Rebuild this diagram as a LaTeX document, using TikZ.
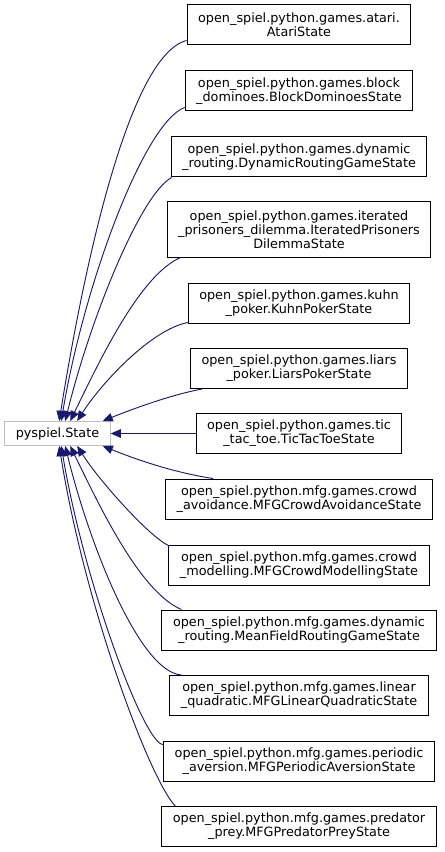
\documentclass[tikz,border=0pt]{standalone}
\usepackage{fontspec}
\setmainfont{DejaVu Sans}
\usetikzlibrary{arrows.meta,calc}
\definecolor{edgeblue}{HTML}{191970}
\definecolor{stategray}{HTML}{BFBFBF}
\begin{document}
\begin{tikzpicture}[x=0.75pt,y=-0.75pt,
  cls/.style={draw=black,line width=0.75pt,fill=white,align=center,
    font=\fontsize{9.6pt}{10.7pt}\selectfont,inner xsep=8.3pt,inner ysep=0pt,
    minimum height=30pt},
  cls3/.style={cls,minimum height=41.25pt},
  base/.style={draw=stategray,line width=0.75pt,fill=white,align=center,
    font=\fontsize{9.6pt}{10.7pt}\selectfont,inner xsep=8.3pt,inner ysep=0pt,
    minimum height=18pt},
  inh/.style={draw=edgeblue,line width=0.7pt,-{Triangle[length=7.5pt,width=6.5pt]}}]
\useasboundingbox (0,0) rectangle (444,852);

\node[base] (st) at (57.5,433.5) {pyspiel.State};

\node[cls] (atari) at (299,25) {open\_spiel.python.games.atari.\\AtariState};
\node[cls] (block) at (299,91) {open\_spiel.python.games.block\\\_dominoes.BlockDominoesState};
\node[cls] (dyn) at (299,157) {open\_spiel.python.games.dynamic\\\_routing.DynamicRoutingGameState};
\node[cls3] (ipd) at (299,229.5) {open\_spiel.python.games.iterated\\\_prisoners\_dilemma.IteratedPrisoners\\DilemmaState};
\node[cls] (kuhn) at (299,303) {open\_spiel.python.games.kuhn\\\_poker.KuhnPokerState};
\node[cls] (liars) at (299,368.5) {open\_spiel.python.games.liars\\\_poker.LiarsPokerState};
\node[cls] (ttt) at (299,433.5) {open\_spiel.python.games.tic\\\_tac\_toe.TicTacToeState};
\node[cls] (cav) at (299,499) {open\_spiel.python.mfg.games.crowd\\\_avoidance.MFGCrowdAvoidanceState};
\node[cls] (cmod) at (299,565) {open\_spiel.python.mfg.games.crowd\\\_modelling.MFGCrowdModellingState};
\node[cls] (mfr) at (299,630) {open\_spiel.python.mfg.games.dynamic\\\_routing.MeanFieldRoutingGameState};
\node[cls] (lin) at (299,695.5) {open\_spiel.python.mfg.games.linear\\\_quadratic.MFGLinearQuadraticState};
\node[cls] (per) at (299,761) {open\_spiel.python.mfg.games.periodic\\\_aversion.MFGPeriodicAversionState};
\node[cls] (pred) at (299,826.5) {open\_spiel.python.mfg.games.predator\\\_prey.MFGPredatorPreyState};

% upper edges
\draw[inh] ($(atari.south west)+(0,-5)$) .. controls (130,55) and (85,260) .. ($(st.north west)+(55,0)$);
\draw[inh] ($(block.south west)+(0,-4)$) .. controls (145,122) and (85,280) .. ($(st.north west)+(57,0)$);
\draw[inh] ($(dyn.south west)+(1,0)$) .. controls (140,195) and (90,320) .. ($(st.north west)+(61,0)$);
\draw[inh] ($(ipd.south west)+(14,0)$) .. controls (140,275) and (100,360) .. ($(st.north west)+(66,0)$);
\draw[inh] ($(kuhn.south west)+(0,-1)$) .. controls (150,330) and (100,385) .. ($(st.north west)+(73,0)$);
\draw[inh] ($(liars.south west)+(12,0)$) .. controls (170,395) and (130,410) .. ($(st.north east)+(-8,0)$);
% middle
\draw[inh] (ttt.west) -- (st.east);
% lower edges
\draw[inh] ($(cav.north west)+(48,0)$) .. controls (170,472) and (130,457) .. ($(st.south east)+(-8,0)$);
\draw[inh] ($(cmod.north west)+(0,1)$) .. controls (150,537) and (100,482) .. ($(st.south west)+(73,0)$);
\draw[inh] ($(mfr.north west)+(20,0)$) .. controls (140,592) and (100,507) .. ($(st.south west)+(66,0)$);
\draw[inh] ($(lin.north west)+(12,0)$) .. controls (140,672) and (90,547) .. ($(st.south west)+(61,0)$);
\draw[inh] ($(per.north west)+(0,4)$) .. controls (145,745) and (85,587) .. ($(st.south west)+(57,0)$);
\draw[inh] ($(pred.north west)+(14,0)$) .. controls (150,780) and (85,607) .. ($(st.south west)+(55,0)$);
\end{tikzpicture}
\end{document}
